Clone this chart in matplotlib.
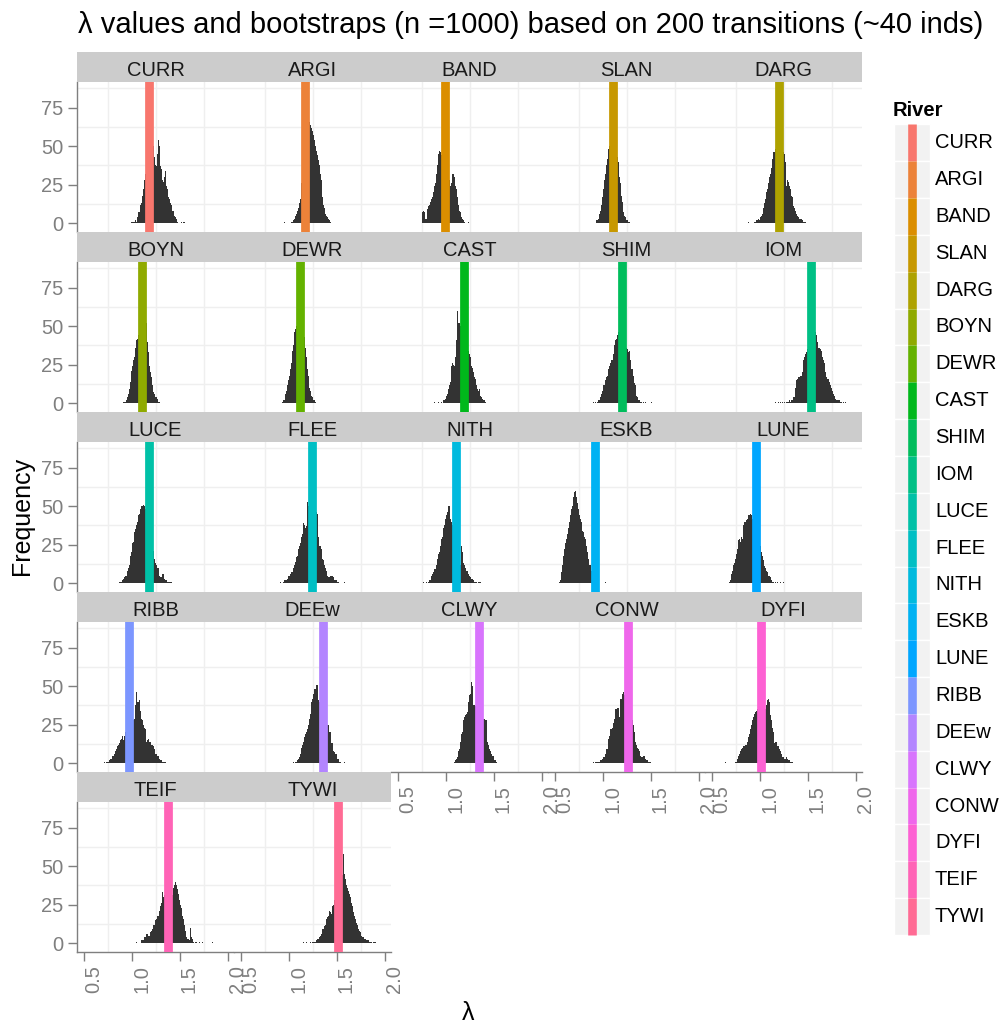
import numpy as np
import matplotlib
matplotlib.use('Agg')
import matplotlib.pyplot as plt
from matplotlib.patches import Rectangle

plt.rcParams['font.family'] = ['Liberation Sans', 'DejaVu Sans']

TITLE = "\u03bb values and bootstraps (n =1000) based on 200 transitions (~40 inds)"

rivers = ["CURR", "ARGI", "BAND", "SLAN", "DARG",
          "BOYN", "DEWR", "CAST", "SHIM", "IOM",
          "LUCE", "FLEE", "NITH", "ESKB", "LUNE",
          "RIBB", "DEEw", "CLWY", "CONW", "DYFI",
          "TEIF", "TYWI"]

# point estimate of lambda per river (the coloured line)
lambda_hat = [1.174, 1.166, 0.989, 1.100, 1.200,
              1.105, 1.116, 1.189, 1.195, 1.537,
              1.174, 1.242, 1.100, 0.916, 0.953,
              0.968, 1.353, 1.346, 1.263, 1.005,
              1.375, 1.513]

# bootstrap histograms: first bin edge + counts per 0.01 bin
hist_start = [0.99, 0.95, 0.75, 0.93, 0.87,
              0.91, 0.93, 0.87, 0.89, 1.16,
              0.86, 0.91, 0.76, 0.54, 0.67,
              0.68, 1.04, 1.08, 0.89, 0.63,
              1.04, 1.12]

c_CURR = [1, 1, 1, 1, 2, 1, 4, 7, 7, 12, 13, 18, 22, 22, 28, 32, 36, 40, 42, 45, 46, 48, 50, 50, 43, 38, 37, 45,
          54, 50, 37, 35, 28, 27, 30, 36, 34, 24, 22, 17, 16, 13, 12, 8, 8, 5, 4, 3, 1, 0, 0, 0, 1, 0, 1, 1]
c_ARGI = [1, 0, 0, 0, 0, 0, 0, 1, 1, 2, 3, 5, 6, 8, 10, 13, 16, 20, 26, 32, 38, 44, 50, 54, 58, 62, 66, 64, 62,
          60, 57, 54, 50, 47, 44, 41, 38, 32, 28, 22, 17, 12, 10, 6, 5, 4, 3, 2, 1]
c_BAND = [7, 8, 7, 3, 3, 9, 11, 12, 14, 16, 17, 20, 24, 26, 32, 35, 38, 45, 47, 46, 44, 42, 40, 38, 36, 34, 32,
          30, 28, 24, 26, 32, 32, 30, 24, 22, 17, 15, 12, 8, 7, 4, 3, 2, 1, 0, 0, 0, 1]
c_SLAN = [2, 2, 3, 6, 8, 12, 17, 22, 28, 32, 38, 42, 48, 50, 52, 54, 55, 55, 54, 52, 50, 46, 43, 40, 30, 26, 18,
          14, 7, 5, 4, 2, 2, 1, 1]
c_DARG = [1, 0, 0, 1, 0, 0, 0, 1, 1, 2, 2, 3, 2, 4, 5, 6, 10, 13, 16, 20, 22, 26, 30, 32, 36, 39, 42, 46, 46, 48,
          50, 52, 52, 50, 50, 48, 47, 46, 45, 40, 24, 28, 27, 24, 22, 18, 17, 14, 11, 10, 8, 6, 5, 4, 3, 3, 3, 2,
          1, 1, 1]
c_BOYN = [1, 1, 1, 2, 4, 6, 9, 14, 21, 24, 28, 30, 36, 41, 42, 44, 46, 48, 50, 50, 51, 52, 52, 52, 52, 40, 33, 24,
          20, 17, 12, 7, 6, 4, 4, 3, 1, 1]
c_DEWR = [1, 2, 2, 6, 8, 12, 15, 18, 22, 26, 34, 38, 46, 48, 50, 52, 54, 55, 55, 54, 52, 50, 48, 43, 36, 30, 22,
          18, 10, 8, 5, 4, 2, 2, 1]
c_CAST = [1, 0, 0, 1, 0, 1, 0, 0, 1, 0, 2, 2, 3, 5, 6, 9, 12, 14, 24, 26, 25, 24, 30, 41, 60, 62, 52, 52, 50, 48,
          46, 44, 42, 40, 38, 36, 34, 32, 30, 24, 23, 20, 17, 16, 12, 9, 8, 11, 9, 5, 4, 3, 2, 2, 1]
c_SHIM = [1, 0, 0, 1, 0, 1, 2, 2, 4, 6, 8, 12, 12, 15, 17, 18, 22, 24, 26, 28, 28, 32, 38, 38, 41, 42, 44, 46, 48,
          48, 46, 44, 42, 40, 38, 36, 35, 33, 34, 28, 22, 22, 18, 13, 12, 8, 5, 4, 2, 2, 1, 1, 0, 1, 0, 1, 0, 0,
          0, 0, 0, 1]
c_IOM = [1, 0, 0, 1, 0, 1, 0, 1, 0, 1, 0, 1, 1, 1, 2, 1, 2, 2, 3, 4, 4, 10, 15, 16, 17, 17, 18, 18, 20, 28, 30,
         32, 33, 35, 38, 40, 42, 44, 44, 45, 44, 45, 46, 44, 40, 36, 36, 35, 34, 30, 28, 26, 20, 17, 16, 16, 14,
         12, 10, 8, 6, 5, 4, 3, 2, 2, 2, 2, 1, 1, 0, 1, 0, 1]
c_LUCE = [1, 1, 1, 2, 3, 3, 4, 5, 5, 8, 10, 12, 18, 20, 26, 27, 33, 35, 38, 40, 44, 45, 48, 50, 50, 51, 51, 50,
          48, 46, 42, 38, 34, 30, 26, 23, 21, 16, 13, 12, 10, 10, 5, 4, 4, 6, 6, 3, 3, 2, 2, 1, 1, 1, 1, 1]
c_FLEE = [1, 0, 0, 1, 2, 2, 2, 3, 5, 5, 6, 7, 7, 10, 12, 14, 17, 18, 22, 24, 26, 29, 30, 32, 39, 38, 36, 37, 53,
          50, 48, 46, 45, 44, 44, 45, 46, 46, 45, 30, 24, 24, 22, 20, 16, 15, 12, 10, 8, 5, 4, 4, 5, 5, 5, 4, 2,
          2, 2, 1, 1, 0, 0, 0, 0, 0, 0, 1]
c_NITH = [1, 0, 0, 1, 0, 1, 2, 2, 5, 6, 7, 9, 9, 12, 14, 16, 19, 20, 24, 29, 30, 36, 38, 42, 44, 46, 50, 50, 42,
          40, 38, 36, 34, 32, 30, 26, 22, 18, 14, 12, 24, 20, 13, 12, 10, 8, 8, 6, 5, 4, 3, 3, 2, 1, 1, 1, 0, 1,
          0, 1, 1]
c_ESKB = [1, 2, 7, 12, 18, 22, 26, 29, 32, 36, 40, 44, 48, 50, 54, 56, 59, 60, 56, 52, 48, 44, 42, 40, 34, 33,
          30, 29, 24, 20, 16, 12, 12, 8, 6, 4, 3, 2, 1, 1, 1, 0, 0, 0, 0, 0, 0, 0, 1]
c_LUNE = [1, 1, 2, 6, 8, 12, 13, 16, 19, 22, 28, 29, 27, 30, 29, 38, 40, 40, 41, 42, 44, 44, 45, 45, 44, 42, 40,
          38, 36, 34, 32, 30, 27, 24, 20, 18, 15, 11, 10, 8, 7, 5, 5, 4, 2, 1, 1, 1, 0, 1, 0, 1, 0, 0, 1, 0, 0, 1]
c_RIBB = [1, 0, 0, 1, 0, 1, 1, 1, 2, 3, 3, 5, 5, 6, 8, 9, 11, 12, 13, 15, 16, 18, 19, 15, 18, 20, 22, 24, 26, 28,
          30, 30, 28, 28, 29, 38, 46, 40, 40, 41, 34, 29, 28, 25, 24, 23, 22, 14, 15, 16, 14, 14, 12, 12, 11, 9,
          6, 6, 5, 5, 3, 2, 2, 1, 1, 1, 1, 1]
c_DEEw = [1, 0, 1, 1, 2, 3, 4, 6, 8, 10, 12, 14, 17, 19, 20, 22, 25, 29, 32, 40, 42, 45, 48, 48, 51, 51, 41, 40,
          38, 36, 34, 32, 30, 28, 27, 26, 25, 25, 20, 20, 13, 13, 8, 7, 6, 6, 3, 3, 1, 1, 0, 0, 0, 0, 1]
c_CLWY = [1, 2, 3, 4, 5, 8, 9, 14, 19, 20, 28, 30, 31, 32, 33, 40, 44, 45, 53, 50, 38, 38, 37, 36, 35, 34, 33, 32,
          31, 30, 30, 29, 29, 28, 28, 14, 12, 9, 8, 6, 5, 5, 2, 2, 1, 0, 0, 0, 1]
c_CONW = [1, 0, 0, 1, 1, 1, 1, 1, 2, 2, 3, 4, 4, 6, 9, 9, 16, 18, 22, 22, 23, 26, 29, 30, 35, 35, 36, 36, 30, 42,
          42, 45, 46, 44, 42, 40, 38, 36, 34, 32, 30, 28, 25, 20, 14, 12, 12, 10, 9, 8, 5, 4, 4, 5, 5, 3, 2, 2,
          1, 1, 1]
c_DYFI = [1, 0, 0, 0, 0, 0, 0, 0, 0, 0, 0, 1, 1, 3, 5, 6, 8, 9, 10, 11, 11, 12, 12, 14, 17, 19, 22, 23, 25, 28,
          30, 32, 33, 34, 35, 36, 36, 37, 38, 38, 36, 35, 35, 38, 41, 42, 40, 31, 28, 28, 23, 20, 13, 14, 14, 11,
          11, 9, 8, 6, 4, 4, 3, 3, 4, 3, 2, 2, 1, 1, 1, 1]
c_TEIF = [1, 0, 0, 0, 0, 2, 2, 2, 3, 4, 4, 6, 6, 5, 5, 7, 8, 9, 12, 12, 15, 16, 18, 18, 21, 24, 26, 33, 30, 31,
          32, 33, 34, 35, 35, 34, 33, 32, 31, 36, 38, 40, 38, 35, 32, 28, 25, 23, 18, 16, 12, 8, 6, 4, 3, 3, 2,
          10, 4, 3, 1, 0, 1, 1, 0, 0, 1, 0, 0, 1, 0, 0, 0, 0, 0, 0, 0, 0, 0, 0, 1]
c_TYWI = [1, 0, 0, 1, 0, 0, 1, 0, 0, 0, 1, 0, 1, 1, 1, 1, 2, 3, 3, 4, 5, 6, 7, 9, 9, 11, 12, 16, 17, 18, 21, 20,
          19, 24, 25, 28, 30, 32, 34, 36, 38, 40, 42, 44, 38, 58, 45, 42, 38, 36, 34, 32, 30, 26, 24, 20, 18, 16,
          13, 12, 9, 8, 7, 5, 4, 4, 3, 3, 3, 2, 2, 2, 1, 1, 1, 0, 1, 1, 1]

hist_counts = [c_CURR, c_ARGI, c_BAND, c_SLAN, c_DARG,
               c_BOYN, c_DEWR, c_CAST, c_SHIM, c_IOM,
               c_LUCE, c_FLEE, c_NITH, c_ESKB, c_LUNE,
               c_RIBB, c_DEEw, c_CLWY, c_CONW, c_DYFI,
               c_TEIF, c_TYWI]

BIN = 0.01
x_ticks = [0.5, 1.0, 1.5, 2.0]
x_ticklabels = ["0.5", "1.0", "1.5", "2.0"]
y_ticks = [0, 25, 50, 75]
x_minor = [0.75, 1.25, 1.75]
y_minor = [12.5, 37.5, 62.5, 87.5]


def hcl_hex(h, c=100.0, l=65.0):
    # same conversion as R's grDevices::hcl (ggplot default hue palette)
    h = np.radians(h)
    U, V = c * np.cos(h), c * np.sin(h)
    Y = ((l + 16) / 116) ** 3 if l > 7.999592 else l / 903.3
    u = U / (13 * l) + 0.1978398
    v = V / (13 * l) + 0.4683363
    X = 9.0 * Y * u / (4 * v)
    Z = -X / 3 - 5 * Y + 3 * Y / v
    rgb = [3.240479 * X - 1.537150 * Y - 0.498535 * Z,
           -0.969256 * X + 1.875992 * Y + 0.041556 * Z,
           0.055648 * X - 0.204043 * Y + 1.057311 * Z]
    out = []
    for t in rgb:
        t = 1.055 * t ** (1 / 2.4) - 0.055 if t > 0.00304 else 12.92 * t
        out.append(min(max(t, 0.0), 1.0))
    return matplotlib.colors.to_hex(out)


n = len(rivers)
colors = [hcl_hex(15 + 360.0 * k / n) for k in range(n)]

W, H = 1003, 1027
fig = plt.figure(figsize=(W / 100, H / 100), dpi=100)


def px_axes(x0, y0, w, h):
    return fig.add_axes([x0 / W, 1 - (y0 + h) / H, w / W, h / H])


GREY = '#7F7F7F'
PANEL_W, PANEL_H, STRIP_H = 157, 150, 30

for i, name in enumerate(rivers):
    r, c = divmod(i, 5)
    x0 = 77 + PANEL_W * c
    y0 = 81.7 + 180 * r
    ax = px_axes(x0, y0, PANEL_W, PANEL_H)
    ax.set_facecolor('white')
    for v in x_minor:
        ax.axvline(v, color='#EFEFEF', lw=1.0, zorder=0)
    for v in y_minor:
        ax.axhline(v, color='#EFEFEF', lw=1.0, zorder=0)

    counts = np.array(hist_counts[i])
    edges = hist_start[i] + BIN * np.arange(len(counts))
    ax.bar(edges, counts, width=BIN, align='edge', color='#333333', linewidth=0, zorder=2)
    ax.axvline(lambda_hat[i], color=colors[i], lw=6.3, zorder=3)

    ax.set_xlim(0.423, 2.068)
    ax.set_ylim(-5.5, 91.9)
    for s in ax.spines.values():
        s.set_visible(False)

    if c == 0:
        ax.spines['left'].set_visible(True)
        ax.spines['left'].set_color(GREY)
        ax.spines['left'].set_linewidth(1.0)
        ax.set_yticks(y_ticks)
        ax.tick_params(axis='y', length=6.5, width=1.0, color=GREY, labelcolor=GREY,
                       labelsize=14.5, pad=3.5)
    else:
        ax.set_yticks([])

    if i >= 17:
        ax.spines['bottom'].set_visible(True)
        ax.spines['bottom'].set_color(GREY)
        ax.spines['bottom'].set_linewidth(1.0)
        ax.set_xticks(x_ticks)
        ax.set_xticklabels(x_ticklabels, rotation=90, ha='left', va='top')
        ax.tick_params(axis='x', length=6.5, width=1.0, color=GREY, labelcolor=GREY,
                       labelsize=14.5, pad=3)
    else:
        ax.set_xticks([])

    sax = px_axes(x0, y0 - STRIP_H, PANEL_W, STRIP_H)
    sax.set_facecolor('#CCCCCC')
    sax.set_xticks([])
    sax.set_yticks([])
    for s in sax.spines.values():
        s.set_visible(False)
    sax.text(0.5, 0.2, name, ha='center', va='baseline', fontsize=14.5, color='#1A1A1A',
             transform=sax.transAxes)

fig.text(531 / W, 1 - 25 / H, TITLE, ha='center', va='center', fontsize=21)
fig.text(22 / W, 1 - 516 / H, "Frequency", rotation=90, ha='center', va='center', fontsize=18)
fig.text(468 / W, 1 - 1013 / H, "\u03bb", ha='center', va='center', fontsize=18)

# legend drawn in pixel coordinates
lax = fig.add_axes([0, 0, 1, 1])
lax.set_xlim(0, W)
lax.set_ylim(H, 0)
lax.axis('off')
lax.text(893, 110, "River", fontweight='bold', fontsize=14.5, ha='left', va='center')
key_top, key_h = 124.3, 36.85
for k, name in enumerate(rivers):
    top = key_top + key_h * k
    lax.add_patch(Rectangle((894, top), 36, key_h, facecolor='#F2F2F2', edgecolor='white', lw=1.0))
for k, name in enumerate(rivers):
    top = key_top + key_h * k
    lax.plot([912.5, 912.5], [top, top + key_h], color=colors[k], lw=6.2, solid_capstyle='butt')
    lax.text(935, top + key_h / 2, name, fontsize=14.5, ha='left', va='center', color='black')

fig.savefig("out.png", dpi=100)
